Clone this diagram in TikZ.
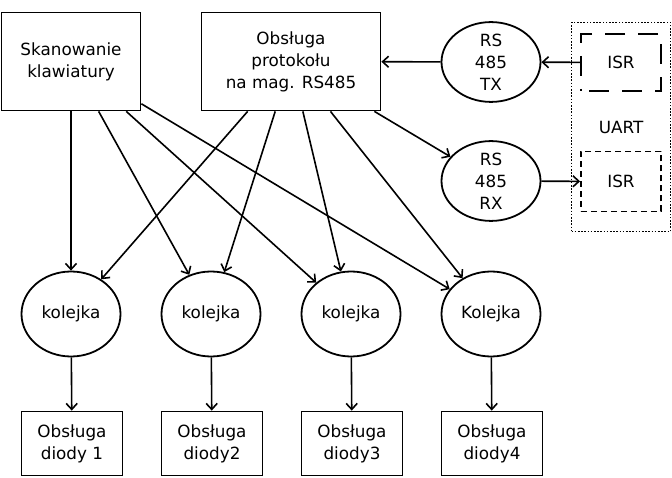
\documentclass[tikz,border=0pt]{standalone}
\usepackage{fontspec}
\setmainfont{DejaVu Sans}
\usetikzlibrary{shapes.geometric,arrows.meta}
\begin{document}
\begin{tikzpicture}[x=1pt,y=-1pt,
 every node/.style={font=\fontsize{16.8}{22}\selectfont, align=center, inner sep=0pt},
 box/.style={draw, line width=1.8pt, rectangle},
 ell/.style={draw, line width=1.8pt, ellipse},
 arr/.style={-{Straight Barb[length=6pt,width=11pt]}, line width=1.6pt}]
\useasboundingbox (0,0) rectangle (672,478);
\node[box, minimum width=139pt, minimum height=98pt] (skan) at (71,61.5) {Skanowanie\\klawiatury};
\node[box, minimum width=179pt, minimum height=98pt] (proto) at (291,61.5) {Obsługa\\protokołu\\na mag. RS485};
\node[ell, minimum width=99pt, minimum height=79pt] (tx) at (491,62) {RS\\485\\TX};
\node[ell, minimum width=99pt, minimum height=79pt] (rx) at (491,181) {RS\\485\\RX};
\node[draw, line width=1.6pt, dash pattern=on 1.6pt off 1.6pt, minimum width=99pt, minimum height=209pt] (uart) at (621,127) {UART};
\node[draw, line width=1.8pt, dash pattern=on 20pt off 13pt, dash phase=-8pt, minimum width=80pt, minimum height=57pt] (isr1) at (621,62.5) {ISR};
\node[draw, line width=1.8pt, dash pattern=on 6pt off 4pt, minimum width=80pt, minimum height=60pt] (isr2) at (621,181.5) {ISR};
\foreach \i/\x/\t in {1/71/kolejka,2/211/kolejka,3/351/kolejka,4/491/Kolejka}{
  \node[ell, minimum width=99pt, minimum height=85pt] (k\i) at (\x,314) {\t};
}
\node[box, minimum width=101pt, minimum height=64pt] (d1) at (72,443.5) {Obsługa\\diody 1};
\node[box, minimum width=101pt, minimum height=64pt] (d2) at (212,443.5) {Obsługa\\diody2};
\node[box, minimum width=101pt, minimum height=64pt] (d3) at (352,443.5) {Obsługa\\diody3};
\node[box, minimum width=101pt, minimum height=64pt] (d4) at (492,443.5) {Obsługa\\diody4};
\foreach \i in {1,2,3,4}{
  \draw[arr] (skan) -- (k\i);
  \draw[arr] (proto) -- (k\i);
  \draw[arr] (k\i) -- (d\i);
}
\draw[arr] (tx) -- (proto);
\draw[arr] (proto) -- (rx);
\draw[arr] (isr1) -- (tx);
\draw[arr] (rx) -- (isr2);
\end{tikzpicture}
\end{document}
